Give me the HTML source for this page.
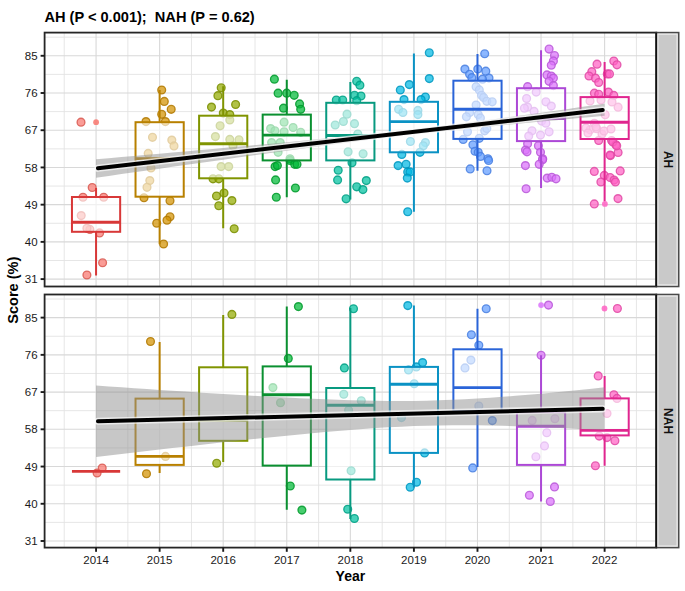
<!DOCTYPE html>
<html><head><meta charset="utf-8"><style>
html,body{margin:0;padding:0;background:#fff;width:685px;height:591px;overflow:hidden}
svg{display:block}
text{font-family:"Liberation Sans",sans-serif;}
.tk{font-size:11.5px;fill:#1a1a1a}
.ti{font-size:14.6px;font-weight:bold;fill:#000;white-space:pre}
.ax{font-size:14px;font-weight:bold;fill:#000}
.st{font-size:12px;font-weight:bold;fill:#111}
</style></head><body>
<svg width="685" height="591" viewBox="0 0 685 591">
<defs><clipPath id="c1"><rect x="44.6" y="32.6" width="611.6999999999999" height="253.9"/></clipPath><clipPath id="c2"><rect x="44.6" y="294.5" width="611.6999999999999" height="253.10000000000002"/></clipPath></defs>
<rect width="685" height="591" fill="#fff"/>
<line x1="44.6" x2="656.3" y1="260.49" y2="260.49" stroke="#E3E3E3" stroke-width="0.9"/>
<line x1="44.6" x2="656.3" y1="223.27" y2="223.27" stroke="#E3E3E3" stroke-width="0.9"/>
<line x1="44.6" x2="656.3" y1="186.05" y2="186.05" stroke="#E3E3E3" stroke-width="0.9"/>
<line x1="44.6" x2="656.3" y1="148.83" y2="148.83" stroke="#E3E3E3" stroke-width="0.9"/>
<line x1="44.6" x2="656.3" y1="111.61" y2="111.61" stroke="#E3E3E3" stroke-width="0.9"/>
<line x1="44.6" x2="656.3" y1="74.39" y2="74.39" stroke="#E3E3E3" stroke-width="0.9"/>
<line x1="44.6" x2="656.3" y1="37.17" y2="37.17" stroke="#E3E3E3" stroke-width="0.9"/>
<line x1="64.23" x2="64.23" y1="32.6" y2="286.5" stroke="#E3E3E3" stroke-width="0.9"/>
<line x1="127.89" x2="127.89" y1="32.6" y2="286.5" stroke="#E3E3E3" stroke-width="0.9"/>
<line x1="191.46" x2="191.46" y1="32.6" y2="286.5" stroke="#E3E3E3" stroke-width="0.9"/>
<line x1="255.03" x2="255.03" y1="32.6" y2="286.5" stroke="#E3E3E3" stroke-width="0.9"/>
<line x1="318.6" x2="318.6" y1="32.6" y2="286.5" stroke="#E3E3E3" stroke-width="0.9"/>
<line x1="382.17" x2="382.17" y1="32.6" y2="286.5" stroke="#E3E3E3" stroke-width="0.9"/>
<line x1="445.74" x2="445.74" y1="32.6" y2="286.5" stroke="#E3E3E3" stroke-width="0.9"/>
<line x1="509.31" x2="509.31" y1="32.6" y2="286.5" stroke="#E3E3E3" stroke-width="0.9"/>
<line x1="572.88" x2="572.88" y1="32.6" y2="286.5" stroke="#E3E3E3" stroke-width="0.9"/>
<line x1="636.45" x2="636.45" y1="32.6" y2="286.5" stroke="#E3E3E3" stroke-width="0.9"/>
<line x1="44.6" x2="656.3" y1="279.1" y2="279.1" stroke="#D8D8D8" stroke-width="1.1"/>
<line x1="44.6" x2="656.3" y1="241.88" y2="241.88" stroke="#D8D8D8" stroke-width="1.1"/>
<line x1="44.6" x2="656.3" y1="204.66" y2="204.66" stroke="#D8D8D8" stroke-width="1.1"/>
<line x1="44.6" x2="656.3" y1="167.44" y2="167.44" stroke="#D8D8D8" stroke-width="1.1"/>
<line x1="44.6" x2="656.3" y1="130.22" y2="130.22" stroke="#D8D8D8" stroke-width="1.1"/>
<line x1="44.6" x2="656.3" y1="93" y2="93" stroke="#D8D8D8" stroke-width="1.1"/>
<line x1="44.6" x2="656.3" y1="55.78" y2="55.78" stroke="#D8D8D8" stroke-width="1.1"/>
<line x1="96.06" x2="96.06" y1="32.6" y2="286.5" stroke="#D8D8D8" stroke-width="1.1"/>
<line x1="159.63" x2="159.63" y1="32.6" y2="286.5" stroke="#D8D8D8" stroke-width="1.1"/>
<line x1="223.2" x2="223.2" y1="32.6" y2="286.5" stroke="#D8D8D8" stroke-width="1.1"/>
<line x1="286.77" x2="286.77" y1="32.6" y2="286.5" stroke="#D8D8D8" stroke-width="1.1"/>
<line x1="350.34" x2="350.34" y1="32.6" y2="286.5" stroke="#D8D8D8" stroke-width="1.1"/>
<line x1="413.91" x2="413.91" y1="32.6" y2="286.5" stroke="#D8D8D8" stroke-width="1.1"/>
<line x1="477.48" x2="477.48" y1="32.6" y2="286.5" stroke="#D8D8D8" stroke-width="1.1"/>
<line x1="541.05" x2="541.05" y1="32.6" y2="286.5" stroke="#D8D8D8" stroke-width="1.1"/>
<line x1="604.62" x2="604.62" y1="32.6" y2="286.5" stroke="#D8D8D8" stroke-width="1.1"/>
<g clip-path="url(#c1)">
<circle cx="81" cy="122.2" r="3.9" fill="#F8766D" fill-opacity="0.72" stroke="#D85A52" stroke-opacity="0.85" stroke-width="1.35"/>
<circle cx="92.2" cy="187.5" r="3.9" fill="#F8766D" fill-opacity="0.72" stroke="#D85A52" stroke-opacity="0.85" stroke-width="1.35"/>
<circle cx="83" cy="197.2" r="3.9" fill="#F8766D" fill-opacity="0.72" stroke="#D85A52" stroke-opacity="0.85" stroke-width="1.35"/>
<circle cx="103.7" cy="197.2" r="3.9" fill="#F8766D" fill-opacity="0.72" stroke="#D85A52" stroke-opacity="0.85" stroke-width="1.35"/>
<circle cx="81.2" cy="215.6" r="3.9" fill="#F8766D" fill-opacity="0.72" stroke="#D85A52" stroke-opacity="0.85" stroke-width="1.35"/>
<circle cx="89.9" cy="229.4" r="3.9" fill="#F8766D" fill-opacity="0.72" stroke="#D85A52" stroke-opacity="0.85" stroke-width="1.35"/>
<circle cx="86.9" cy="228.3" r="3.9" fill="#F8766D" fill-opacity="0.72" stroke="#D85A52" stroke-opacity="0.85" stroke-width="1.35"/>
<circle cx="99.6" cy="232.9" r="3.9" fill="#F8766D" fill-opacity="0.72" stroke="#D85A52" stroke-opacity="0.85" stroke-width="1.35"/>
<circle cx="102.6" cy="262.8" r="3.9" fill="#F8766D" fill-opacity="0.72" stroke="#D85A52" stroke-opacity="0.85" stroke-width="1.35"/>
<circle cx="86.9" cy="275" r="3.9" fill="#F8766D" fill-opacity="0.72" stroke="#D85A52" stroke-opacity="0.85" stroke-width="1.35"/>
<circle cx="161.7" cy="90" r="3.9" fill="#D39200" fill-opacity="0.72" stroke="#B07800" stroke-opacity="0.85" stroke-width="1.35"/>
<circle cx="164.3" cy="101.4" r="3.9" fill="#D39200" fill-opacity="0.72" stroke="#B07800" stroke-opacity="0.85" stroke-width="1.35"/>
<circle cx="171.2" cy="109.3" r="3.9" fill="#D39200" fill-opacity="0.72" stroke="#B07800" stroke-opacity="0.85" stroke-width="1.35"/>
<circle cx="161.7" cy="114.3" r="3.9" fill="#D39200" fill-opacity="0.72" stroke="#B07800" stroke-opacity="0.85" stroke-width="1.35"/>
<circle cx="165.4" cy="121.6" r="3.9" fill="#D39200" fill-opacity="0.72" stroke="#B07800" stroke-opacity="0.85" stroke-width="1.35"/>
<circle cx="146" cy="121.6" r="3.9" fill="#D39200" fill-opacity="0.72" stroke="#B07800" stroke-opacity="0.85" stroke-width="1.35"/>
<circle cx="152.5" cy="137.3" r="3.9" fill="#D39200" fill-opacity="0.72" stroke="#B07800" stroke-opacity="0.85" stroke-width="1.35"/>
<circle cx="171.8" cy="140.1" r="3.9" fill="#D39200" fill-opacity="0.72" stroke="#B07800" stroke-opacity="0.85" stroke-width="1.35"/>
<circle cx="174" cy="145.9" r="3.9" fill="#D39200" fill-opacity="0.72" stroke="#B07800" stroke-opacity="0.85" stroke-width="1.35"/>
<circle cx="148.2" cy="153.4" r="3.9" fill="#D39200" fill-opacity="0.72" stroke="#B07800" stroke-opacity="0.85" stroke-width="1.35"/>
<circle cx="151" cy="168" r="3.9" fill="#D39200" fill-opacity="0.72" stroke="#B07800" stroke-opacity="0.85" stroke-width="1.35"/>
<circle cx="149.8" cy="180.6" r="3.9" fill="#D39200" fill-opacity="0.72" stroke="#B07800" stroke-opacity="0.85" stroke-width="1.35"/>
<circle cx="147" cy="187.3" r="3.9" fill="#D39200" fill-opacity="0.72" stroke="#B07800" stroke-opacity="0.85" stroke-width="1.35"/>
<circle cx="144" cy="197.7" r="3.9" fill="#D39200" fill-opacity="0.72" stroke="#B07800" stroke-opacity="0.85" stroke-width="1.35"/>
<circle cx="170" cy="200.7" r="3.9" fill="#D39200" fill-opacity="0.72" stroke="#B07800" stroke-opacity="0.85" stroke-width="1.35"/>
<circle cx="170" cy="216.8" r="3.9" fill="#D39200" fill-opacity="0.72" stroke="#B07800" stroke-opacity="0.85" stroke-width="1.35"/>
<circle cx="167" cy="220.2" r="3.9" fill="#D39200" fill-opacity="0.72" stroke="#B07800" stroke-opacity="0.85" stroke-width="1.35"/>
<circle cx="156.7" cy="223.2" r="3.9" fill="#D39200" fill-opacity="0.72" stroke="#B07800" stroke-opacity="0.85" stroke-width="1.35"/>
<circle cx="163.6" cy="244" r="3.9" fill="#D39200" fill-opacity="0.72" stroke="#B07800" stroke-opacity="0.85" stroke-width="1.35"/>
<circle cx="221.2" cy="87.8" r="3.9" fill="#93AA00" fill-opacity="0.72" stroke="#7A8E00" stroke-opacity="0.85" stroke-width="1.35"/>
<circle cx="217.9" cy="95.7" r="3.9" fill="#93AA00" fill-opacity="0.72" stroke="#7A8E00" stroke-opacity="0.85" stroke-width="1.35"/>
<circle cx="211.5" cy="107.1" r="3.9" fill="#93AA00" fill-opacity="0.72" stroke="#7A8E00" stroke-opacity="0.85" stroke-width="1.35"/>
<circle cx="235.6" cy="104.5" r="3.9" fill="#93AA00" fill-opacity="0.72" stroke="#7A8E00" stroke-opacity="0.85" stroke-width="1.35"/>
<circle cx="223.3" cy="113.1" r="3.9" fill="#93AA00" fill-opacity="0.72" stroke="#7A8E00" stroke-opacity="0.85" stroke-width="1.35"/>
<circle cx="229.8" cy="114.6" r="3.9" fill="#93AA00" fill-opacity="0.72" stroke="#7A8E00" stroke-opacity="0.85" stroke-width="1.35"/>
<circle cx="229.8" cy="120" r="3.9" fill="#93AA00" fill-opacity="0.72" stroke="#7A8E00" stroke-opacity="0.85" stroke-width="1.35"/>
<circle cx="220.1" cy="125.8" r="3.9" fill="#93AA00" fill-opacity="0.72" stroke="#7A8E00" stroke-opacity="0.85" stroke-width="1.35"/>
<circle cx="215.4" cy="136.6" r="3.9" fill="#93AA00" fill-opacity="0.72" stroke="#7A8E00" stroke-opacity="0.85" stroke-width="1.35"/>
<circle cx="229.8" cy="139.4" r="3.9" fill="#93AA00" fill-opacity="0.72" stroke="#7A8E00" stroke-opacity="0.85" stroke-width="1.35"/>
<circle cx="239" cy="139.8" r="3.9" fill="#93AA00" fill-opacity="0.72" stroke="#7A8E00" stroke-opacity="0.85" stroke-width="1.35"/>
<circle cx="233" cy="145.8" r="3.9" fill="#93AA00" fill-opacity="0.72" stroke="#7A8E00" stroke-opacity="0.85" stroke-width="1.35"/>
<circle cx="221.1" cy="166.6" r="3.9" fill="#93AA00" fill-opacity="0.72" stroke="#7A8E00" stroke-opacity="0.85" stroke-width="1.35"/>
<circle cx="228.7" cy="166.6" r="3.9" fill="#93AA00" fill-opacity="0.72" stroke="#7A8E00" stroke-opacity="0.85" stroke-width="1.35"/>
<circle cx="213" cy="178.8" r="3.9" fill="#93AA00" fill-opacity="0.72" stroke="#7A8E00" stroke-opacity="0.85" stroke-width="1.35"/>
<circle cx="218.8" cy="178.8" r="3.9" fill="#93AA00" fill-opacity="0.72" stroke="#7A8E00" stroke-opacity="0.85" stroke-width="1.35"/>
<circle cx="216.5" cy="196" r="3.9" fill="#93AA00" fill-opacity="0.72" stroke="#7A8E00" stroke-opacity="0.85" stroke-width="1.35"/>
<circle cx="224" cy="193" r="3.9" fill="#93AA00" fill-opacity="0.72" stroke="#7A8E00" stroke-opacity="0.85" stroke-width="1.35"/>
<circle cx="231.9" cy="200.6" r="3.9" fill="#93AA00" fill-opacity="0.72" stroke="#7A8E00" stroke-opacity="0.85" stroke-width="1.35"/>
<circle cx="218.8" cy="205.7" r="3.9" fill="#93AA00" fill-opacity="0.72" stroke="#7A8E00" stroke-opacity="0.85" stroke-width="1.35"/>
<circle cx="234.2" cy="228.7" r="3.9" fill="#93AA00" fill-opacity="0.72" stroke="#7A8E00" stroke-opacity="0.85" stroke-width="1.35"/>
<circle cx="274.4" cy="79.2" r="3.9" fill="#00BA38" fill-opacity="0.72" stroke="#009A2C" stroke-opacity="0.85" stroke-width="1.35"/>
<circle cx="278.1" cy="93.2" r="3.9" fill="#00BA38" fill-opacity="0.72" stroke="#009A2C" stroke-opacity="0.85" stroke-width="1.35"/>
<circle cx="286.7" cy="93.2" r="3.9" fill="#00BA38" fill-opacity="0.72" stroke="#009A2C" stroke-opacity="0.85" stroke-width="1.35"/>
<circle cx="294.2" cy="95.3" r="3.9" fill="#00BA38" fill-opacity="0.72" stroke="#009A2C" stroke-opacity="0.85" stroke-width="1.35"/>
<circle cx="299.6" cy="103.9" r="3.9" fill="#00BA38" fill-opacity="0.72" stroke="#009A2C" stroke-opacity="0.85" stroke-width="1.35"/>
<circle cx="300.7" cy="109.3" r="3.9" fill="#00BA38" fill-opacity="0.72" stroke="#009A2C" stroke-opacity="0.85" stroke-width="1.35"/>
<circle cx="283.5" cy="108.2" r="3.9" fill="#00BA38" fill-opacity="0.72" stroke="#009A2C" stroke-opacity="0.85" stroke-width="1.35"/>
<circle cx="284.1" cy="122.2" r="3.9" fill="#00BA38" fill-opacity="0.72" stroke="#009A2C" stroke-opacity="0.85" stroke-width="1.35"/>
<circle cx="293.1" cy="127.5" r="3.9" fill="#00BA38" fill-opacity="0.72" stroke="#009A2C" stroke-opacity="0.85" stroke-width="1.35"/>
<circle cx="270.6" cy="128.6" r="3.9" fill="#00BA38" fill-opacity="0.72" stroke="#009A2C" stroke-opacity="0.85" stroke-width="1.35"/>
<circle cx="274.9" cy="130.8" r="3.9" fill="#00BA38" fill-opacity="0.72" stroke="#009A2C" stroke-opacity="0.85" stroke-width="1.35"/>
<circle cx="284.1" cy="131.8" r="3.9" fill="#00BA38" fill-opacity="0.72" stroke="#009A2C" stroke-opacity="0.85" stroke-width="1.35"/>
<circle cx="300.7" cy="132.3" r="3.9" fill="#00BA38" fill-opacity="0.72" stroke="#009A2C" stroke-opacity="0.85" stroke-width="1.35"/>
<circle cx="271.6" cy="142.6" r="3.9" fill="#00BA38" fill-opacity="0.72" stroke="#009A2C" stroke-opacity="0.85" stroke-width="1.35"/>
<circle cx="280.2" cy="142.6" r="3.9" fill="#00BA38" fill-opacity="0.72" stroke="#009A2C" stroke-opacity="0.85" stroke-width="1.35"/>
<circle cx="278.1" cy="152.3" r="3.9" fill="#00BA38" fill-opacity="0.72" stroke="#009A2C" stroke-opacity="0.85" stroke-width="1.35"/>
<circle cx="290" cy="158.7" r="3.9" fill="#00BA38" fill-opacity="0.72" stroke="#009A2C" stroke-opacity="0.85" stroke-width="1.35"/>
<circle cx="275.1" cy="166.6" r="3.9" fill="#00BA38" fill-opacity="0.72" stroke="#009A2C" stroke-opacity="0.85" stroke-width="1.35"/>
<circle cx="277.4" cy="165.6" r="3.9" fill="#00BA38" fill-opacity="0.72" stroke="#009A2C" stroke-opacity="0.85" stroke-width="1.35"/>
<circle cx="290.1" cy="160.4" r="3.9" fill="#00BA38" fill-opacity="0.72" stroke="#009A2C" stroke-opacity="0.85" stroke-width="1.35"/>
<circle cx="294.7" cy="164.3" r="3.9" fill="#00BA38" fill-opacity="0.72" stroke="#009A2C" stroke-opacity="0.85" stroke-width="1.35"/>
<circle cx="297" cy="164.3" r="3.9" fill="#00BA38" fill-opacity="0.72" stroke="#009A2C" stroke-opacity="0.85" stroke-width="1.35"/>
<circle cx="275.6" cy="179.9" r="3.9" fill="#00BA38" fill-opacity="0.72" stroke="#009A2C" stroke-opacity="0.85" stroke-width="1.35"/>
<circle cx="295.4" cy="188" r="3.9" fill="#00BA38" fill-opacity="0.72" stroke="#009A2C" stroke-opacity="0.85" stroke-width="1.35"/>
<circle cx="276.3" cy="197.2" r="3.9" fill="#00BA38" fill-opacity="0.72" stroke="#009A2C" stroke-opacity="0.85" stroke-width="1.35"/>
<circle cx="356.7" cy="81.3" r="3.9" fill="#00C19F" fill-opacity="0.72" stroke="#00A085" stroke-opacity="0.85" stroke-width="1.35"/>
<circle cx="359.9" cy="85.2" r="3.9" fill="#00C19F" fill-opacity="0.72" stroke="#00A085" stroke-opacity="0.85" stroke-width="1.35"/>
<circle cx="354.5" cy="95.3" r="3.9" fill="#00C19F" fill-opacity="0.72" stroke="#00A085" stroke-opacity="0.85" stroke-width="1.35"/>
<circle cx="361" cy="96" r="3.9" fill="#00C19F" fill-opacity="0.72" stroke="#00A085" stroke-opacity="0.85" stroke-width="1.35"/>
<circle cx="336.3" cy="100" r="3.9" fill="#00C19F" fill-opacity="0.72" stroke="#00A085" stroke-opacity="0.85" stroke-width="1.35"/>
<circle cx="342.7" cy="100" r="3.9" fill="#00C19F" fill-opacity="0.72" stroke="#00A085" stroke-opacity="0.85" stroke-width="1.35"/>
<circle cx="356.7" cy="100.7" r="3.9" fill="#00C19F" fill-opacity="0.72" stroke="#00A085" stroke-opacity="0.85" stroke-width="1.35"/>
<circle cx="347" cy="114.2" r="3.9" fill="#00C19F" fill-opacity="0.72" stroke="#00A085" stroke-opacity="0.85" stroke-width="1.35"/>
<circle cx="343.4" cy="121.5" r="3.9" fill="#00C19F" fill-opacity="0.72" stroke="#00A085" stroke-opacity="0.85" stroke-width="1.35"/>
<circle cx="335.2" cy="125" r="3.9" fill="#00C19F" fill-opacity="0.72" stroke="#00A085" stroke-opacity="0.85" stroke-width="1.35"/>
<circle cx="354.5" cy="123.7" r="3.9" fill="#00C19F" fill-opacity="0.72" stroke="#00A085" stroke-opacity="0.85" stroke-width="1.35"/>
<circle cx="357.8" cy="134" r="3.9" fill="#00C19F" fill-opacity="0.72" stroke="#00A085" stroke-opacity="0.85" stroke-width="1.35"/>
<circle cx="348.1" cy="151.8" r="3.9" fill="#00C19F" fill-opacity="0.72" stroke="#00A085" stroke-opacity="0.85" stroke-width="1.35"/>
<circle cx="363.1" cy="153.8" r="3.9" fill="#00C19F" fill-opacity="0.72" stroke="#00A085" stroke-opacity="0.85" stroke-width="1.35"/>
<circle cx="352" cy="162.7" r="3.9" fill="#00C19F" fill-opacity="0.72" stroke="#00A085" stroke-opacity="0.85" stroke-width="1.35"/>
<circle cx="338.2" cy="170.2" r="3.9" fill="#00C19F" fill-opacity="0.72" stroke="#00A085" stroke-opacity="0.85" stroke-width="1.35"/>
<circle cx="337.6" cy="179.9" r="3.9" fill="#00C19F" fill-opacity="0.72" stroke="#00A085" stroke-opacity="0.85" stroke-width="1.35"/>
<circle cx="366.3" cy="180.6" r="3.9" fill="#00C19F" fill-opacity="0.72" stroke="#00A085" stroke-opacity="0.85" stroke-width="1.35"/>
<circle cx="356.7" cy="186.8" r="3.9" fill="#00C19F" fill-opacity="0.72" stroke="#00A085" stroke-opacity="0.85" stroke-width="1.35"/>
<circle cx="362.9" cy="189.6" r="3.9" fill="#00C19F" fill-opacity="0.72" stroke="#00A085" stroke-opacity="0.85" stroke-width="1.35"/>
<circle cx="346.1" cy="198.8" r="3.9" fill="#00C19F" fill-opacity="0.72" stroke="#00A085" stroke-opacity="0.85" stroke-width="1.35"/>
<circle cx="429.3" cy="52.8" r="3.9" fill="#00B9E3" fill-opacity="0.72" stroke="#0098C0" stroke-opacity="0.85" stroke-width="1.35"/>
<circle cx="429.3" cy="78.6" r="3.9" fill="#00B9E3" fill-opacity="0.72" stroke="#0098C0" stroke-opacity="0.85" stroke-width="1.35"/>
<circle cx="409.3" cy="84.6" r="3.9" fill="#00B9E3" fill-opacity="0.72" stroke="#0098C0" stroke-opacity="0.85" stroke-width="1.35"/>
<circle cx="400.3" cy="90" r="3.9" fill="#00B9E3" fill-opacity="0.72" stroke="#0098C0" stroke-opacity="0.85" stroke-width="1.35"/>
<circle cx="404" cy="99.6" r="3.9" fill="#00B9E3" fill-opacity="0.72" stroke="#0098C0" stroke-opacity="0.85" stroke-width="1.35"/>
<circle cx="425.4" cy="97" r="3.9" fill="#00B9E3" fill-opacity="0.72" stroke="#0098C0" stroke-opacity="0.85" stroke-width="1.35"/>
<circle cx="421.1" cy="99.6" r="3.9" fill="#00B9E3" fill-opacity="0.72" stroke="#0098C0" stroke-opacity="0.85" stroke-width="1.35"/>
<circle cx="398.6" cy="109.3" r="3.9" fill="#00B9E3" fill-opacity="0.72" stroke="#0098C0" stroke-opacity="0.85" stroke-width="1.35"/>
<circle cx="402.9" cy="112.5" r="3.9" fill="#00B9E3" fill-opacity="0.72" stroke="#0098C0" stroke-opacity="0.85" stroke-width="1.35"/>
<circle cx="417.9" cy="110.4" r="3.9" fill="#00B9E3" fill-opacity="0.72" stroke="#0098C0" stroke-opacity="0.85" stroke-width="1.35"/>
<circle cx="417.9" cy="114.6" r="3.9" fill="#00B9E3" fill-opacity="0.72" stroke="#0098C0" stroke-opacity="0.85" stroke-width="1.35"/>
<circle cx="410.4" cy="141.5" r="3.9" fill="#00B9E3" fill-opacity="0.72" stroke="#0098C0" stroke-opacity="0.85" stroke-width="1.35"/>
<circle cx="425.4" cy="142.6" r="3.9" fill="#00B9E3" fill-opacity="0.72" stroke="#0098C0" stroke-opacity="0.85" stroke-width="1.35"/>
<circle cx="423.3" cy="145.8" r="3.9" fill="#00B9E3" fill-opacity="0.72" stroke="#0098C0" stroke-opacity="0.85" stroke-width="1.35"/>
<circle cx="401.8" cy="154.4" r="3.9" fill="#00B9E3" fill-opacity="0.72" stroke="#0098C0" stroke-opacity="0.85" stroke-width="1.35"/>
<circle cx="420" cy="152.3" r="3.9" fill="#00B9E3" fill-opacity="0.72" stroke="#0098C0" stroke-opacity="0.85" stroke-width="1.35"/>
<circle cx="398.1" cy="165.6" r="3.9" fill="#00B9E3" fill-opacity="0.72" stroke="#0098C0" stroke-opacity="0.85" stroke-width="1.35"/>
<circle cx="406.1" cy="164.3" r="3.9" fill="#00B9E3" fill-opacity="0.72" stroke="#0098C0" stroke-opacity="0.85" stroke-width="1.35"/>
<circle cx="407.7" cy="171.9" r="3.9" fill="#00B9E3" fill-opacity="0.72" stroke="#0098C0" stroke-opacity="0.85" stroke-width="1.35"/>
<circle cx="410" cy="171.9" r="3.9" fill="#00B9E3" fill-opacity="0.72" stroke="#0098C0" stroke-opacity="0.85" stroke-width="1.35"/>
<circle cx="407.3" cy="178.1" r="3.9" fill="#00B9E3" fill-opacity="0.72" stroke="#0098C0" stroke-opacity="0.85" stroke-width="1.35"/>
<circle cx="407.7" cy="211.7" r="3.9" fill="#00B9E3" fill-opacity="0.72" stroke="#0098C0" stroke-opacity="0.85" stroke-width="1.35"/>
<circle cx="484.7" cy="53.8" r="3.9" fill="#619CFF" fill-opacity="0.72" stroke="#4A80E0" stroke-opacity="0.85" stroke-width="1.35"/>
<circle cx="464.9" cy="69.1" r="3.9" fill="#619CFF" fill-opacity="0.72" stroke="#4A80E0" stroke-opacity="0.85" stroke-width="1.35"/>
<circle cx="477.8" cy="69.1" r="3.9" fill="#619CFF" fill-opacity="0.72" stroke="#4A80E0" stroke-opacity="0.85" stroke-width="1.35"/>
<circle cx="485.8" cy="71.2" r="3.9" fill="#619CFF" fill-opacity="0.72" stroke="#4A80E0" stroke-opacity="0.85" stroke-width="1.35"/>
<circle cx="469.6" cy="74.3" r="3.9" fill="#619CFF" fill-opacity="0.72" stroke="#4A80E0" stroke-opacity="0.85" stroke-width="1.35"/>
<circle cx="471.8" cy="77.7" r="3.9" fill="#619CFF" fill-opacity="0.72" stroke="#4A80E0" stroke-opacity="0.85" stroke-width="1.35"/>
<circle cx="489" cy="78.1" r="3.9" fill="#619CFF" fill-opacity="0.72" stroke="#4A80E0" stroke-opacity="0.85" stroke-width="1.35"/>
<circle cx="482.5" cy="79.2" r="3.9" fill="#619CFF" fill-opacity="0.72" stroke="#4A80E0" stroke-opacity="0.85" stroke-width="1.35"/>
<circle cx="476.1" cy="86.7" r="3.9" fill="#619CFF" fill-opacity="0.72" stroke="#4A80E0" stroke-opacity="0.85" stroke-width="1.35"/>
<circle cx="479.3" cy="89.9" r="3.9" fill="#619CFF" fill-opacity="0.72" stroke="#4A80E0" stroke-opacity="0.85" stroke-width="1.35"/>
<circle cx="481.5" cy="95.3" r="3.9" fill="#619CFF" fill-opacity="0.72" stroke="#4A80E0" stroke-opacity="0.85" stroke-width="1.35"/>
<circle cx="483.6" cy="97.5" r="3.9" fill="#619CFF" fill-opacity="0.72" stroke="#4A80E0" stroke-opacity="0.85" stroke-width="1.35"/>
<circle cx="486.8" cy="101.3" r="3.9" fill="#619CFF" fill-opacity="0.72" stroke="#4A80E0" stroke-opacity="0.85" stroke-width="1.35"/>
<circle cx="492.2" cy="101.8" r="3.9" fill="#619CFF" fill-opacity="0.72" stroke="#4A80E0" stroke-opacity="0.85" stroke-width="1.35"/>
<circle cx="476.1" cy="105" r="3.9" fill="#619CFF" fill-opacity="0.72" stroke="#4A80E0" stroke-opacity="0.85" stroke-width="1.35"/>
<circle cx="469.6" cy="112.5" r="3.9" fill="#619CFF" fill-opacity="0.72" stroke="#4A80E0" stroke-opacity="0.85" stroke-width="1.35"/>
<circle cx="478.2" cy="114.6" r="3.9" fill="#619CFF" fill-opacity="0.72" stroke="#4A80E0" stroke-opacity="0.85" stroke-width="1.35"/>
<circle cx="466.4" cy="116.8" r="3.9" fill="#619CFF" fill-opacity="0.72" stroke="#4A80E0" stroke-opacity="0.85" stroke-width="1.35"/>
<circle cx="480.4" cy="117.9" r="3.9" fill="#619CFF" fill-opacity="0.72" stroke="#4A80E0" stroke-opacity="0.85" stroke-width="1.35"/>
<circle cx="467.5" cy="131.8" r="3.9" fill="#619CFF" fill-opacity="0.72" stroke="#4A80E0" stroke-opacity="0.85" stroke-width="1.35"/>
<circle cx="484.7" cy="130.8" r="3.9" fill="#619CFF" fill-opacity="0.72" stroke="#4A80E0" stroke-opacity="0.85" stroke-width="1.35"/>
<circle cx="486.8" cy="128.6" r="3.9" fill="#619CFF" fill-opacity="0.72" stroke="#4A80E0" stroke-opacity="0.85" stroke-width="1.35"/>
<circle cx="463.2" cy="139.4" r="3.9" fill="#619CFF" fill-opacity="0.72" stroke="#4A80E0" stroke-opacity="0.85" stroke-width="1.35"/>
<circle cx="479.3" cy="138.3" r="3.9" fill="#619CFF" fill-opacity="0.72" stroke="#4A80E0" stroke-opacity="0.85" stroke-width="1.35"/>
<circle cx="472.9" cy="144.7" r="3.9" fill="#619CFF" fill-opacity="0.72" stroke="#4A80E0" stroke-opacity="0.85" stroke-width="1.35"/>
<circle cx="475" cy="151.2" r="3.9" fill="#619CFF" fill-opacity="0.72" stroke="#4A80E0" stroke-opacity="0.85" stroke-width="1.35"/>
<circle cx="478.2" cy="152.3" r="3.9" fill="#619CFF" fill-opacity="0.72" stroke="#4A80E0" stroke-opacity="0.85" stroke-width="1.35"/>
<circle cx="487.9" cy="158.7" r="3.9" fill="#619CFF" fill-opacity="0.72" stroke="#4A80E0" stroke-opacity="0.85" stroke-width="1.35"/>
<circle cx="480.5" cy="156.4" r="3.9" fill="#619CFF" fill-opacity="0.72" stroke="#4A80E0" stroke-opacity="0.85" stroke-width="1.35"/>
<circle cx="488.6" cy="160.4" r="3.9" fill="#619CFF" fill-opacity="0.72" stroke="#4A80E0" stroke-opacity="0.85" stroke-width="1.35"/>
<circle cx="470.2" cy="168.9" r="3.9" fill="#619CFF" fill-opacity="0.72" stroke="#4A80E0" stroke-opacity="0.85" stroke-width="1.35"/>
<circle cx="487" cy="170.7" r="3.9" fill="#619CFF" fill-opacity="0.72" stroke="#4A80E0" stroke-opacity="0.85" stroke-width="1.35"/>
<circle cx="549.1" cy="49.1" r="3.9" fill="#DB72FB" fill-opacity="0.72" stroke="#B858D8" stroke-opacity="0.85" stroke-width="1.35"/>
<circle cx="554.5" cy="55.6" r="3.9" fill="#DB72FB" fill-opacity="0.72" stroke="#B858D8" stroke-opacity="0.85" stroke-width="1.35"/>
<circle cx="553.4" cy="60.9" r="3.9" fill="#DB72FB" fill-opacity="0.72" stroke="#B858D8" stroke-opacity="0.85" stroke-width="1.35"/>
<circle cx="551.3" cy="65.2" r="3.9" fill="#DB72FB" fill-opacity="0.72" stroke="#B858D8" stroke-opacity="0.85" stroke-width="1.35"/>
<circle cx="547" cy="74.9" r="3.9" fill="#DB72FB" fill-opacity="0.72" stroke="#B858D8" stroke-opacity="0.85" stroke-width="1.35"/>
<circle cx="551.3" cy="76" r="3.9" fill="#DB72FB" fill-opacity="0.72" stroke="#B858D8" stroke-opacity="0.85" stroke-width="1.35"/>
<circle cx="553.4" cy="78.1" r="3.9" fill="#DB72FB" fill-opacity="0.72" stroke="#B858D8" stroke-opacity="0.85" stroke-width="1.35"/>
<circle cx="549.1" cy="81.3" r="3.9" fill="#DB72FB" fill-opacity="0.72" stroke="#B858D8" stroke-opacity="0.85" stroke-width="1.35"/>
<circle cx="553.4" cy="85.6" r="3.9" fill="#DB72FB" fill-opacity="0.72" stroke="#B858D8" stroke-opacity="0.85" stroke-width="1.35"/>
<circle cx="527.6" cy="86.7" r="3.9" fill="#DB72FB" fill-opacity="0.72" stroke="#B858D8" stroke-opacity="0.85" stroke-width="1.35"/>
<circle cx="536.2" cy="92.1" r="3.9" fill="#DB72FB" fill-opacity="0.72" stroke="#B858D8" stroke-opacity="0.85" stroke-width="1.35"/>
<circle cx="526.6" cy="98.5" r="3.9" fill="#DB72FB" fill-opacity="0.72" stroke="#B858D8" stroke-opacity="0.85" stroke-width="1.35"/>
<circle cx="545.9" cy="101.8" r="3.9" fill="#DB72FB" fill-opacity="0.72" stroke="#B858D8" stroke-opacity="0.85" stroke-width="1.35"/>
<circle cx="551.3" cy="106.1" r="3.9" fill="#DB72FB" fill-opacity="0.72" stroke="#B858D8" stroke-opacity="0.85" stroke-width="1.35"/>
<circle cx="527.6" cy="107.1" r="3.9" fill="#DB72FB" fill-opacity="0.72" stroke="#B858D8" stroke-opacity="0.85" stroke-width="1.35"/>
<circle cx="524.4" cy="108.2" r="3.9" fill="#DB72FB" fill-opacity="0.72" stroke="#B858D8" stroke-opacity="0.85" stroke-width="1.35"/>
<circle cx="534.1" cy="111.4" r="3.9" fill="#DB72FB" fill-opacity="0.72" stroke="#B858D8" stroke-opacity="0.85" stroke-width="1.35"/>
<circle cx="541.6" cy="121.1" r="3.9" fill="#DB72FB" fill-opacity="0.72" stroke="#B858D8" stroke-opacity="0.85" stroke-width="1.35"/>
<circle cx="545.9" cy="123.2" r="3.9" fill="#DB72FB" fill-opacity="0.72" stroke="#B858D8" stroke-opacity="0.85" stroke-width="1.35"/>
<circle cx="532" cy="130.8" r="3.9" fill="#DB72FB" fill-opacity="0.72" stroke="#B858D8" stroke-opacity="0.85" stroke-width="1.35"/>
<circle cx="540.5" cy="135.1" r="3.9" fill="#DB72FB" fill-opacity="0.72" stroke="#B858D8" stroke-opacity="0.85" stroke-width="1.35"/>
<circle cx="549.1" cy="131.8" r="3.9" fill="#DB72FB" fill-opacity="0.72" stroke="#B858D8" stroke-opacity="0.85" stroke-width="1.35"/>
<circle cx="528.7" cy="136.1" r="3.9" fill="#DB72FB" fill-opacity="0.72" stroke="#B858D8" stroke-opacity="0.85" stroke-width="1.35"/>
<circle cx="527.6" cy="143.7" r="3.9" fill="#DB72FB" fill-opacity="0.72" stroke="#B858D8" stroke-opacity="0.85" stroke-width="1.35"/>
<circle cx="538.4" cy="145.8" r="3.9" fill="#DB72FB" fill-opacity="0.72" stroke="#B858D8" stroke-opacity="0.85" stroke-width="1.35"/>
<circle cx="525.5" cy="150.1" r="3.9" fill="#DB72FB" fill-opacity="0.72" stroke="#B858D8" stroke-opacity="0.85" stroke-width="1.35"/>
<circle cx="540.5" cy="152.3" r="3.9" fill="#DB72FB" fill-opacity="0.72" stroke="#B858D8" stroke-opacity="0.85" stroke-width="1.35"/>
<circle cx="542.7" cy="158.7" r="3.9" fill="#DB72FB" fill-opacity="0.72" stroke="#B858D8" stroke-opacity="0.85" stroke-width="1.35"/>
<circle cx="527" cy="151.8" r="3.9" fill="#DB72FB" fill-opacity="0.72" stroke="#B858D8" stroke-opacity="0.85" stroke-width="1.35"/>
<circle cx="542.6" cy="159.7" r="3.9" fill="#DB72FB" fill-opacity="0.72" stroke="#B858D8" stroke-opacity="0.85" stroke-width="1.35"/>
<circle cx="539.2" cy="164.3" r="3.9" fill="#DB72FB" fill-opacity="0.72" stroke="#B858D8" stroke-opacity="0.85" stroke-width="1.35"/>
<circle cx="525.4" cy="165.6" r="3.9" fill="#DB72FB" fill-opacity="0.72" stroke="#B858D8" stroke-opacity="0.85" stroke-width="1.35"/>
<circle cx="547.2" cy="178.1" r="3.9" fill="#DB72FB" fill-opacity="0.72" stroke="#B858D8" stroke-opacity="0.85" stroke-width="1.35"/>
<circle cx="551.8" cy="177.2" r="3.9" fill="#DB72FB" fill-opacity="0.72" stroke="#B858D8" stroke-opacity="0.85" stroke-width="1.35"/>
<circle cx="556" cy="178.8" r="3.9" fill="#DB72FB" fill-opacity="0.72" stroke="#B858D8" stroke-opacity="0.85" stroke-width="1.35"/>
<circle cx="526.1" cy="188.7" r="3.9" fill="#DB72FB" fill-opacity="0.72" stroke="#B858D8" stroke-opacity="0.85" stroke-width="1.35"/>
<circle cx="597" cy="64.2" r="3.9" fill="#FF61C3" fill-opacity="0.72" stroke="#E04AA4" stroke-opacity="0.85" stroke-width="1.35"/>
<circle cx="613.8" cy="61" r="3.9" fill="#FF61C3" fill-opacity="0.72" stroke="#E04AA4" stroke-opacity="0.85" stroke-width="1.35"/>
<circle cx="617" cy="64.8" r="3.9" fill="#FF61C3" fill-opacity="0.72" stroke="#E04AA4" stroke-opacity="0.85" stroke-width="1.35"/>
<circle cx="591.8" cy="71.7" r="3.9" fill="#FF61C3" fill-opacity="0.72" stroke="#E04AA4" stroke-opacity="0.85" stroke-width="1.35"/>
<circle cx="589" cy="76" r="3.9" fill="#FF61C3" fill-opacity="0.72" stroke="#E04AA4" stroke-opacity="0.85" stroke-width="1.35"/>
<circle cx="595.5" cy="78.2" r="3.9" fill="#FF61C3" fill-opacity="0.72" stroke="#E04AA4" stroke-opacity="0.85" stroke-width="1.35"/>
<circle cx="598.7" cy="82.5" r="3.9" fill="#FF61C3" fill-opacity="0.72" stroke="#E04AA4" stroke-opacity="0.85" stroke-width="1.35"/>
<circle cx="607.3" cy="73.9" r="3.9" fill="#FF61C3" fill-opacity="0.72" stroke="#E04AA4" stroke-opacity="0.85" stroke-width="1.35"/>
<circle cx="609.5" cy="73.9" r="3.9" fill="#FF61C3" fill-opacity="0.72" stroke="#E04AA4" stroke-opacity="0.85" stroke-width="1.35"/>
<circle cx="594.4" cy="93.2" r="3.9" fill="#FF61C3" fill-opacity="0.72" stroke="#E04AA4" stroke-opacity="0.85" stroke-width="1.35"/>
<circle cx="598.7" cy="94.3" r="3.9" fill="#FF61C3" fill-opacity="0.72" stroke="#E04AA4" stroke-opacity="0.85" stroke-width="1.35"/>
<circle cx="608.4" cy="92.1" r="3.9" fill="#FF61C3" fill-opacity="0.72" stroke="#E04AA4" stroke-opacity="0.85" stroke-width="1.35"/>
<circle cx="613.8" cy="95.4" r="3.9" fill="#FF61C3" fill-opacity="0.72" stroke="#E04AA4" stroke-opacity="0.85" stroke-width="1.35"/>
<circle cx="618.1" cy="107.2" r="3.9" fill="#FF61C3" fill-opacity="0.72" stroke="#E04AA4" stroke-opacity="0.85" stroke-width="1.35"/>
<circle cx="605.2" cy="114.7" r="3.9" fill="#FF61C3" fill-opacity="0.72" stroke="#E04AA4" stroke-opacity="0.85" stroke-width="1.35"/>
<circle cx="594.4" cy="123.3" r="3.9" fill="#FF61C3" fill-opacity="0.72" stroke="#E04AA4" stroke-opacity="0.85" stroke-width="1.35"/>
<circle cx="590.1" cy="129.8" r="3.9" fill="#FF61C3" fill-opacity="0.72" stroke="#E04AA4" stroke-opacity="0.85" stroke-width="1.35"/>
<circle cx="596.6" cy="128.7" r="3.9" fill="#FF61C3" fill-opacity="0.72" stroke="#E04AA4" stroke-opacity="0.85" stroke-width="1.35"/>
<circle cx="602" cy="134.1" r="3.9" fill="#FF61C3" fill-opacity="0.72" stroke="#E04AA4" stroke-opacity="0.85" stroke-width="1.35"/>
<circle cx="598.7" cy="140.5" r="3.9" fill="#FF61C3" fill-opacity="0.72" stroke="#E04AA4" stroke-opacity="0.85" stroke-width="1.35"/>
<circle cx="611.6" cy="140.5" r="3.9" fill="#FF61C3" fill-opacity="0.72" stroke="#E04AA4" stroke-opacity="0.85" stroke-width="1.35"/>
<circle cx="615.9" cy="144.8" r="3.9" fill="#FF61C3" fill-opacity="0.72" stroke="#E04AA4" stroke-opacity="0.85" stroke-width="1.35"/>
<circle cx="618.1" cy="152.4" r="3.9" fill="#FF61C3" fill-opacity="0.72" stroke="#E04AA4" stroke-opacity="0.85" stroke-width="1.35"/>
<circle cx="610.5" cy="155.6" r="3.9" fill="#FF61C3" fill-opacity="0.72" stroke="#E04AA4" stroke-opacity="0.85" stroke-width="1.35"/>
<circle cx="612.8" cy="141.9" r="3.9" fill="#FF61C3" fill-opacity="0.72" stroke="#E04AA4" stroke-opacity="0.85" stroke-width="1.35"/>
<circle cx="616.7" cy="145.8" r="3.9" fill="#FF61C3" fill-opacity="0.72" stroke="#E04AA4" stroke-opacity="0.85" stroke-width="1.35"/>
<circle cx="610.1" cy="155.1" r="3.9" fill="#FF61C3" fill-opacity="0.72" stroke="#E04AA4" stroke-opacity="0.85" stroke-width="1.35"/>
<circle cx="594.3" cy="171.4" r="3.9" fill="#FF61C3" fill-opacity="0.72" stroke="#E04AA4" stroke-opacity="0.85" stroke-width="1.35"/>
<circle cx="620.2" cy="170.9" r="3.9" fill="#FF61C3" fill-opacity="0.72" stroke="#E04AA4" stroke-opacity="0.85" stroke-width="1.35"/>
<circle cx="604.3" cy="175.4" r="3.9" fill="#FF61C3" fill-opacity="0.72" stroke="#E04AA4" stroke-opacity="0.85" stroke-width="1.35"/>
<circle cx="610.1" cy="177.5" r="3.9" fill="#FF61C3" fill-opacity="0.72" stroke="#E04AA4" stroke-opacity="0.85" stroke-width="1.35"/>
<circle cx="614.1" cy="180.1" r="3.9" fill="#FF61C3" fill-opacity="0.72" stroke="#E04AA4" stroke-opacity="0.85" stroke-width="1.35"/>
<circle cx="600.9" cy="182" r="3.9" fill="#FF61C3" fill-opacity="0.72" stroke="#E04AA4" stroke-opacity="0.85" stroke-width="1.35"/>
<circle cx="615.4" cy="182" r="3.9" fill="#FF61C3" fill-opacity="0.72" stroke="#E04AA4" stroke-opacity="0.85" stroke-width="1.35"/>
<circle cx="594.3" cy="203.9" r="3.9" fill="#FF61C3" fill-opacity="0.72" stroke="#E04AA4" stroke-opacity="0.85" stroke-width="1.35"/>
<circle cx="618" cy="198.6" r="3.9" fill="#FF61C3" fill-opacity="0.72" stroke="#E04AA4" stroke-opacity="0.85" stroke-width="1.35"/>
<circle cx="590" cy="101" r="3.9" fill="#FF61C3" fill-opacity="0.72" stroke="#E04AA4" stroke-opacity="0.85" stroke-width="1.35"/>
<circle cx="601" cy="100" r="3.9" fill="#FF61C3" fill-opacity="0.72" stroke="#E04AA4" stroke-opacity="0.85" stroke-width="1.35"/>
<circle cx="612" cy="102" r="3.9" fill="#FF61C3" fill-opacity="0.72" stroke="#E04AA4" stroke-opacity="0.85" stroke-width="1.35"/>
<circle cx="596" cy="127" r="3.9" fill="#FF61C3" fill-opacity="0.72" stroke="#E04AA4" stroke-opacity="0.85" stroke-width="1.35"/>
<circle cx="586" cy="128" r="3.9" fill="#FF61C3" fill-opacity="0.72" stroke="#E04AA4" stroke-opacity="0.85" stroke-width="1.35"/>
<circle cx="604" cy="131" r="3.9" fill="#FF61C3" fill-opacity="0.72" stroke="#E04AA4" stroke-opacity="0.85" stroke-width="1.35"/>
<circle cx="588" cy="133" r="3.9" fill="#FF61C3" fill-opacity="0.72" stroke="#E04AA4" stroke-opacity="0.85" stroke-width="1.35"/>
<circle cx="611" cy="129" r="3.9" fill="#FF61C3" fill-opacity="0.72" stroke="#E04AA4" stroke-opacity="0.85" stroke-width="1.35"/>
<line x1="96.06" x2="96.06" y1="188" y2="197" stroke="#D83838" stroke-width="2"/>
<line x1="96.06" x2="96.06" y1="231.8" y2="275.5" stroke="#D83838" stroke-width="2"/>
<rect x="71.96" y="197" width="48.2" height="34.8" fill="#fff" fill-opacity="0.62" stroke="#D83838" stroke-width="2"/>
<line x1="71.96" x2="120.16" y1="222.2" y2="222.2" stroke="#D83838" stroke-width="2.9"/>
<circle cx="96.1" cy="122.2" r="2.9" fill="#F8766D" fill-opacity="0.85"/>
<line x1="159.63" x2="159.63" y1="90" y2="122.2" stroke="#B88000" stroke-width="2"/>
<line x1="159.63" x2="159.63" y1="196.7" y2="244.3" stroke="#B88000" stroke-width="2"/>
<rect x="135.53" y="122.2" width="48.2" height="74.5" fill="#fff" fill-opacity="0.62" stroke="#B88000" stroke-width="2"/>
<line x1="135.53" x2="183.73" y1="158.6" y2="158.6" stroke="#B88000" stroke-width="2.9"/>
<line x1="223.2" x2="223.2" y1="86.3" y2="115.7" stroke="#809400" stroke-width="2"/>
<line x1="223.2" x2="223.2" y1="178.3" y2="228.2" stroke="#809400" stroke-width="2"/>
<rect x="199.1" y="115.7" width="48.2" height="62.6" fill="#fff" fill-opacity="0.62" stroke="#809400" stroke-width="2"/>
<line x1="199.1" x2="247.3" y1="143.7" y2="143.7" stroke="#809400" stroke-width="2.9"/>
<line x1="286.77" x2="286.77" y1="79.8" y2="114.6" stroke="#0A9030" stroke-width="2"/>
<line x1="286.77" x2="286.77" y1="160.4" y2="197.2" stroke="#0A9030" stroke-width="2"/>
<rect x="262.67" y="114.6" width="48.2" height="45.8" fill="#fff" fill-opacity="0.62" stroke="#0A9030" stroke-width="2"/>
<line x1="262.67" x2="310.87" y1="135.1" y2="135.1" stroke="#0A9030" stroke-width="2.9"/>
<line x1="350.34" x2="350.34" y1="82" y2="102.8" stroke="#089A80" stroke-width="2"/>
<line x1="350.34" x2="350.34" y1="160.4" y2="199.5" stroke="#089A80" stroke-width="2"/>
<rect x="326.24" y="102.8" width="48.2" height="57.6" fill="#fff" fill-opacity="0.62" stroke="#089A80" stroke-width="2"/>
<line x1="326.24" x2="374.44" y1="135.5" y2="135.5" stroke="#089A80" stroke-width="2.9"/>
<line x1="413.91" x2="413.91" y1="53.4" y2="101.8" stroke="#0A92C4" stroke-width="2"/>
<line x1="413.91" x2="413.91" y1="152.3" y2="211.7" stroke="#0A92C4" stroke-width="2"/>
<rect x="389.81" y="101.8" width="48.2" height="50.5" fill="#fff" fill-opacity="0.62" stroke="#0A92C4" stroke-width="2"/>
<line x1="389.81" x2="438.01" y1="121.6" y2="121.6" stroke="#0A92C4" stroke-width="2.9"/>
<line x1="477.48" x2="477.48" y1="54.1" y2="80.7" stroke="#2A64D8" stroke-width="2"/>
<line x1="477.48" x2="477.48" y1="138.9" y2="170.7" stroke="#2A64D8" stroke-width="2"/>
<rect x="453.38" y="80.7" width="48.2" height="58.2" fill="#fff" fill-opacity="0.62" stroke="#2A64D8" stroke-width="2"/>
<line x1="453.38" x2="501.58" y1="109.3" y2="109.3" stroke="#2A64D8" stroke-width="2.9"/>
<line x1="541.05" x2="541.05" y1="50.2" y2="88.2" stroke="#AC48D6" stroke-width="2"/>
<line x1="541.05" x2="541.05" y1="141.1" y2="188" stroke="#AC48D6" stroke-width="2"/>
<rect x="516.95" y="88.2" width="48.2" height="52.9" fill="#fff" fill-opacity="0.62" stroke="#AC48D6" stroke-width="2"/>
<line x1="516.95" x2="565.15" y1="118.5" y2="118.5" stroke="#AC48D6" stroke-width="2.9"/>
<line x1="604.62" x2="604.62" y1="62" y2="97.1" stroke="#E0268F" stroke-width="2"/>
<line x1="604.62" x2="604.62" y1="139" y2="201.2" stroke="#E0268F" stroke-width="2"/>
<rect x="580.52" y="97.1" width="48.2" height="41.9" fill="#fff" fill-opacity="0.62" stroke="#E0268F" stroke-width="2"/>
<line x1="580.52" x2="628.72" y1="122.2" y2="122.2" stroke="#E0268F" stroke-width="2.9"/>
<circle cx="604.9" cy="203.9" r="2.9" fill="#FF61C3" fill-opacity="0.85"/>
<path d="M96.06,159.3 L108.77,158.18 L121.49,157.05 L134.2,155.93 L146.91,154.8 L159.63,153.67 L172.34,152.54 L185.05,151.41 L197.77,150.27 L210.48,149.14 L223.2,147.99 L235.91,146.85 L248.62,145.7 L261.34,144.54 L274.05,143.38 L286.76,142.21 L299.48,141.02 L312.19,139.83 L324.9,138.62 L337.62,137.39 L350.33,136.14 L363.04,134.85 L375.76,133.54 L388.47,132.17 L401.18,130.77 L413.9,129.31 L426.61,127.8 L439.32,126.24 L452.04,124.64 L464.75,123 L477.47,121.33 L490.18,119.64 L502.89,117.92 L515.61,116.18 L528.32,114.44 L541.03,112.68 L553.75,110.91 L566.46,109.13 L579.17,107.35 L591.89,105.56 L604.6,103.77 L604.6,115.83 L591.89,116.97 L579.17,118.12 L566.46,119.27 L553.75,120.43 L541.03,121.6 L528.32,122.77 L515.61,123.96 L502.89,125.16 L490.18,126.38 L477.47,127.62 L464.75,128.88 L452.04,130.18 L439.32,131.51 L426.61,132.89 L413.9,134.31 L401.18,135.79 L388.47,137.32 L375.76,138.89 L363.04,140.51 L350.33,142.16 L337.62,143.84 L324.9,145.55 L312.19,147.27 L299.48,149.02 L286.76,150.77 L274.05,152.53 L261.34,154.3 L248.62,156.08 L235.91,157.87 L223.2,159.66 L210.48,161.45 L197.77,163.25 L185.05,165.04 L172.34,166.85 L159.63,168.65 L146.91,170.46 L134.2,172.27 L121.49,174.08 L108.77,175.89 L96.06,177.7 Z" fill="#8f8f8f" fill-opacity="0.5"/>
<line x1="97.96" y1="168.28" x2="602.7" y2="110.02" stroke="#fff" stroke-width="7.2" stroke-opacity="0.65" stroke-linecap="round"/>
<line x1="97.96" y1="168.28" x2="602.7" y2="110.02" stroke="#000" stroke-width="4" stroke-linecap="round"/>
</g>
<rect x="44.6" y="32.6" width="611.7" height="253.9" fill="none" stroke="#262626" stroke-width="1.8"/>
<line x1="44.6" x2="656.3" y1="522.38" y2="522.38" stroke="#E3E3E3" stroke-width="0.9"/>
<line x1="44.6" x2="656.3" y1="485.15" y2="485.15" stroke="#E3E3E3" stroke-width="0.9"/>
<line x1="44.6" x2="656.3" y1="447.93" y2="447.93" stroke="#E3E3E3" stroke-width="0.9"/>
<line x1="44.6" x2="656.3" y1="410.7" y2="410.7" stroke="#E3E3E3" stroke-width="0.9"/>
<line x1="44.6" x2="656.3" y1="373.47" y2="373.47" stroke="#E3E3E3" stroke-width="0.9"/>
<line x1="44.6" x2="656.3" y1="336.24" y2="336.24" stroke="#E3E3E3" stroke-width="0.9"/>
<line x1="44.6" x2="656.3" y1="299" y2="299" stroke="#E3E3E3" stroke-width="0.9"/>
<line x1="64.23" x2="64.23" y1="294.5" y2="547.6" stroke="#E3E3E3" stroke-width="0.9"/>
<line x1="127.89" x2="127.89" y1="294.5" y2="547.6" stroke="#E3E3E3" stroke-width="0.9"/>
<line x1="191.46" x2="191.46" y1="294.5" y2="547.6" stroke="#E3E3E3" stroke-width="0.9"/>
<line x1="255.03" x2="255.03" y1="294.5" y2="547.6" stroke="#E3E3E3" stroke-width="0.9"/>
<line x1="318.6" x2="318.6" y1="294.5" y2="547.6" stroke="#E3E3E3" stroke-width="0.9"/>
<line x1="382.17" x2="382.17" y1="294.5" y2="547.6" stroke="#E3E3E3" stroke-width="0.9"/>
<line x1="445.74" x2="445.74" y1="294.5" y2="547.6" stroke="#E3E3E3" stroke-width="0.9"/>
<line x1="509.31" x2="509.31" y1="294.5" y2="547.6" stroke="#E3E3E3" stroke-width="0.9"/>
<line x1="572.88" x2="572.88" y1="294.5" y2="547.6" stroke="#E3E3E3" stroke-width="0.9"/>
<line x1="636.45" x2="636.45" y1="294.5" y2="547.6" stroke="#E3E3E3" stroke-width="0.9"/>
<line x1="44.6" x2="656.3" y1="541" y2="541" stroke="#D8D8D8" stroke-width="1.1"/>
<line x1="44.6" x2="656.3" y1="503.77" y2="503.77" stroke="#D8D8D8" stroke-width="1.1"/>
<line x1="44.6" x2="656.3" y1="466.54" y2="466.54" stroke="#D8D8D8" stroke-width="1.1"/>
<line x1="44.6" x2="656.3" y1="429.31" y2="429.31" stroke="#D8D8D8" stroke-width="1.1"/>
<line x1="44.6" x2="656.3" y1="392.08" y2="392.08" stroke="#D8D8D8" stroke-width="1.1"/>
<line x1="44.6" x2="656.3" y1="354.85" y2="354.85" stroke="#D8D8D8" stroke-width="1.1"/>
<line x1="44.6" x2="656.3" y1="317.62" y2="317.62" stroke="#D8D8D8" stroke-width="1.1"/>
<line x1="96.06" x2="96.06" y1="294.5" y2="547.6" stroke="#D8D8D8" stroke-width="1.1"/>
<line x1="159.63" x2="159.63" y1="294.5" y2="547.6" stroke="#D8D8D8" stroke-width="1.1"/>
<line x1="223.2" x2="223.2" y1="294.5" y2="547.6" stroke="#D8D8D8" stroke-width="1.1"/>
<line x1="286.77" x2="286.77" y1="294.5" y2="547.6" stroke="#D8D8D8" stroke-width="1.1"/>
<line x1="350.34" x2="350.34" y1="294.5" y2="547.6" stroke="#D8D8D8" stroke-width="1.1"/>
<line x1="413.91" x2="413.91" y1="294.5" y2="547.6" stroke="#D8D8D8" stroke-width="1.1"/>
<line x1="477.48" x2="477.48" y1="294.5" y2="547.6" stroke="#D8D8D8" stroke-width="1.1"/>
<line x1="541.05" x2="541.05" y1="294.5" y2="547.6" stroke="#D8D8D8" stroke-width="1.1"/>
<line x1="604.62" x2="604.62" y1="294.5" y2="547.6" stroke="#D8D8D8" stroke-width="1.1"/>
<g clip-path="url(#c2)">
<circle cx="97.1" cy="473" r="3.9" fill="#F8766D" fill-opacity="0.72" stroke="#D85A52" stroke-opacity="0.85" stroke-width="1.35"/>
<circle cx="102.2" cy="468" r="3.9" fill="#F8766D" fill-opacity="0.72" stroke="#D85A52" stroke-opacity="0.85" stroke-width="1.35"/>
<circle cx="150.5" cy="341.5" r="3.9" fill="#D39200" fill-opacity="0.72" stroke="#B07800" stroke-opacity="0.85" stroke-width="1.35"/>
<circle cx="146.5" cy="473.7" r="3.9" fill="#D39200" fill-opacity="0.72" stroke="#B07800" stroke-opacity="0.85" stroke-width="1.35"/>
<circle cx="165.5" cy="456.4" r="3.9" fill="#D39200" fill-opacity="0.72" stroke="#B07800" stroke-opacity="0.85" stroke-width="1.35"/>
<circle cx="231.9" cy="314.4" r="3.9" fill="#93AA00" fill-opacity="0.72" stroke="#7A8E00" stroke-opacity="0.85" stroke-width="1.35"/>
<circle cx="216.7" cy="463.3" r="3.9" fill="#93AA00" fill-opacity="0.72" stroke="#7A8E00" stroke-opacity="0.85" stroke-width="1.35"/>
<circle cx="298.4" cy="306.6" r="3.9" fill="#00BA38" fill-opacity="0.72" stroke="#009A2C" stroke-opacity="0.85" stroke-width="1.35"/>
<circle cx="288.3" cy="358.4" r="3.9" fill="#00BA38" fill-opacity="0.72" stroke="#009A2C" stroke-opacity="0.85" stroke-width="1.35"/>
<circle cx="272.9" cy="387.6" r="3.9" fill="#00BA38" fill-opacity="0.72" stroke="#009A2C" stroke-opacity="0.85" stroke-width="1.35"/>
<circle cx="280.5" cy="402.8" r="3.9" fill="#00BA38" fill-opacity="0.72" stroke="#009A2C" stroke-opacity="0.85" stroke-width="1.35"/>
<circle cx="290.3" cy="486" r="3.9" fill="#00BA38" fill-opacity="0.72" stroke="#009A2C" stroke-opacity="0.85" stroke-width="1.35"/>
<circle cx="301.9" cy="510.1" r="3.9" fill="#00BA38" fill-opacity="0.72" stroke="#009A2C" stroke-opacity="0.85" stroke-width="1.35"/>
<circle cx="353.5" cy="308.7" r="3.9" fill="#00C19F" fill-opacity="0.72" stroke="#00A085" stroke-opacity="0.85" stroke-width="1.35"/>
<circle cx="344.4" cy="367.9" r="3.9" fill="#00C19F" fill-opacity="0.72" stroke="#00A085" stroke-opacity="0.85" stroke-width="1.35"/>
<circle cx="343.8" cy="394.3" r="3.9" fill="#00C19F" fill-opacity="0.72" stroke="#00A085" stroke-opacity="0.85" stroke-width="1.35"/>
<circle cx="361.3" cy="400.7" r="3.9" fill="#00C19F" fill-opacity="0.72" stroke="#00A085" stroke-opacity="0.85" stroke-width="1.35"/>
<circle cx="348.6" cy="410.2" r="3.9" fill="#00C19F" fill-opacity="0.72" stroke="#00A085" stroke-opacity="0.85" stroke-width="1.35"/>
<circle cx="351.1" cy="470.7" r="3.9" fill="#00C19F" fill-opacity="0.72" stroke="#00A085" stroke-opacity="0.85" stroke-width="1.35"/>
<circle cx="347.7" cy="509.2" r="3.9" fill="#00C19F" fill-opacity="0.72" stroke="#00A085" stroke-opacity="0.85" stroke-width="1.35"/>
<circle cx="354.4" cy="518.5" r="3.9" fill="#00C19F" fill-opacity="0.72" stroke="#00A085" stroke-opacity="0.85" stroke-width="1.35"/>
<circle cx="407.8" cy="305.6" r="3.9" fill="#00B9E3" fill-opacity="0.72" stroke="#0098C0" stroke-opacity="0.85" stroke-width="1.35"/>
<circle cx="422.6" cy="362.6" r="3.9" fill="#00B9E3" fill-opacity="0.72" stroke="#0098C0" stroke-opacity="0.85" stroke-width="1.35"/>
<circle cx="416.3" cy="366.9" r="3.9" fill="#00B9E3" fill-opacity="0.72" stroke="#0098C0" stroke-opacity="0.85" stroke-width="1.35"/>
<circle cx="408.5" cy="370" r="3.9" fill="#00B9E3" fill-opacity="0.72" stroke="#0098C0" stroke-opacity="0.85" stroke-width="1.35"/>
<circle cx="414.2" cy="383.8" r="3.9" fill="#00B9E3" fill-opacity="0.72" stroke="#0098C0" stroke-opacity="0.85" stroke-width="1.35"/>
<circle cx="401.5" cy="417.6" r="3.9" fill="#00B9E3" fill-opacity="0.72" stroke="#0098C0" stroke-opacity="0.85" stroke-width="1.35"/>
<circle cx="424.6" cy="452.9" r="3.9" fill="#00B9E3" fill-opacity="0.72" stroke="#0098C0" stroke-opacity="0.85" stroke-width="1.35"/>
<circle cx="410.2" cy="487.2" r="3.9" fill="#00B9E3" fill-opacity="0.72" stroke="#0098C0" stroke-opacity="0.85" stroke-width="1.35"/>
<circle cx="416.5" cy="482.3" r="3.9" fill="#00B9E3" fill-opacity="0.72" stroke="#0098C0" stroke-opacity="0.85" stroke-width="1.35"/>
<circle cx="486.2" cy="308.7" r="3.9" fill="#619CFF" fill-opacity="0.72" stroke="#4A80E0" stroke-opacity="0.85" stroke-width="1.35"/>
<circle cx="471.4" cy="334.7" r="3.9" fill="#619CFF" fill-opacity="0.72" stroke="#4A80E0" stroke-opacity="0.85" stroke-width="1.35"/>
<circle cx="478.8" cy="345.3" r="3.9" fill="#619CFF" fill-opacity="0.72" stroke="#4A80E0" stroke-opacity="0.85" stroke-width="1.35"/>
<circle cx="470.9" cy="360.1" r="3.9" fill="#619CFF" fill-opacity="0.72" stroke="#4A80E0" stroke-opacity="0.85" stroke-width="1.35"/>
<circle cx="465" cy="367.9" r="3.9" fill="#619CFF" fill-opacity="0.72" stroke="#4A80E0" stroke-opacity="0.85" stroke-width="1.35"/>
<circle cx="478.8" cy="406" r="3.9" fill="#619CFF" fill-opacity="0.72" stroke="#4A80E0" stroke-opacity="0.85" stroke-width="1.35"/>
<circle cx="472.7" cy="467.9" r="3.9" fill="#619CFF" fill-opacity="0.72" stroke="#4A80E0" stroke-opacity="0.85" stroke-width="1.35"/>
<circle cx="492.3" cy="420.6" r="3.9" fill="#619CFF" fill-opacity="0.72" stroke="#4A80E0" stroke-opacity="0.85" stroke-width="1.35"/>
<circle cx="548.5" cy="305.1" r="3.9" fill="#DB72FB" fill-opacity="0.72" stroke="#B858D8" stroke-opacity="0.85" stroke-width="1.35"/>
<circle cx="541.1" cy="355.2" r="3.9" fill="#DB72FB" fill-opacity="0.72" stroke="#B858D8" stroke-opacity="0.85" stroke-width="1.35"/>
<circle cx="532.2" cy="420.4" r="3.9" fill="#DB72FB" fill-opacity="0.72" stroke="#B858D8" stroke-opacity="0.85" stroke-width="1.35"/>
<circle cx="554.9" cy="418.8" r="3.9" fill="#DB72FB" fill-opacity="0.72" stroke="#B858D8" stroke-opacity="0.85" stroke-width="1.35"/>
<circle cx="546.8" cy="432.7" r="3.9" fill="#DB72FB" fill-opacity="0.72" stroke="#B858D8" stroke-opacity="0.85" stroke-width="1.35"/>
<circle cx="544.5" cy="445.9" r="3.9" fill="#DB72FB" fill-opacity="0.72" stroke="#B858D8" stroke-opacity="0.85" stroke-width="1.35"/>
<circle cx="535.9" cy="456.8" r="3.9" fill="#DB72FB" fill-opacity="0.72" stroke="#B858D8" stroke-opacity="0.85" stroke-width="1.35"/>
<circle cx="554.5" cy="486.9" r="3.9" fill="#DB72FB" fill-opacity="0.72" stroke="#B858D8" stroke-opacity="0.85" stroke-width="1.35"/>
<circle cx="529.4" cy="495.3" r="3.9" fill="#DB72FB" fill-opacity="0.72" stroke="#B858D8" stroke-opacity="0.85" stroke-width="1.35"/>
<circle cx="550.3" cy="501.5" r="3.9" fill="#DB72FB" fill-opacity="0.72" stroke="#B858D8" stroke-opacity="0.85" stroke-width="1.35"/>
<circle cx="617.4" cy="308.5" r="3.9" fill="#FF61C3" fill-opacity="0.72" stroke="#E04AA4" stroke-opacity="0.85" stroke-width="1.35"/>
<circle cx="598.2" cy="375.9" r="3.9" fill="#FF61C3" fill-opacity="0.72" stroke="#E04AA4" stroke-opacity="0.85" stroke-width="1.35"/>
<circle cx="613.9" cy="394.7" r="3.9" fill="#FF61C3" fill-opacity="0.72" stroke="#E04AA4" stroke-opacity="0.85" stroke-width="1.35"/>
<circle cx="617" cy="398.4" r="3.9" fill="#FF61C3" fill-opacity="0.72" stroke="#E04AA4" stroke-opacity="0.85" stroke-width="1.35"/>
<circle cx="607" cy="413.5" r="3.9" fill="#FF61C3" fill-opacity="0.72" stroke="#E04AA4" stroke-opacity="0.85" stroke-width="1.35"/>
<circle cx="599.2" cy="436.1" r="3.9" fill="#FF61C3" fill-opacity="0.72" stroke="#E04AA4" stroke-opacity="0.85" stroke-width="1.35"/>
<circle cx="607" cy="437.6" r="3.9" fill="#FF61C3" fill-opacity="0.72" stroke="#E04AA4" stroke-opacity="0.85" stroke-width="1.35"/>
<circle cx="614.9" cy="440.8" r="3.9" fill="#FF61C3" fill-opacity="0.72" stroke="#E04AA4" stroke-opacity="0.85" stroke-width="1.35"/>
<circle cx="595.4" cy="465.8" r="3.9" fill="#FF61C3" fill-opacity="0.72" stroke="#E04AA4" stroke-opacity="0.85" stroke-width="1.35"/>
<line x1="96.06" x2="96.06" y1="471.4" y2="471.4" stroke="#D83838" stroke-width="2"/>
<line x1="96.06" x2="96.06" y1="471.4" y2="471.4" stroke="#D83838" stroke-width="2"/>
<rect x="71.96" y="471.4" width="48.2" height="0" fill="#fff" fill-opacity="0.62" stroke="#D83838" stroke-width="2"/>
<line x1="71.96" x2="120.16" y1="471.4" y2="471.4" stroke="#D83838" stroke-width="2.9"/>
<line x1="159.63" x2="159.63" y1="341.9" y2="398.6" stroke="#B88000" stroke-width="2"/>
<line x1="159.63" x2="159.63" y1="464.9" y2="473" stroke="#B88000" stroke-width="2"/>
<rect x="135.53" y="398.6" width="48.2" height="66.3" fill="#fff" fill-opacity="0.62" stroke="#B88000" stroke-width="2"/>
<line x1="135.53" x2="183.73" y1="456.4" y2="456.4" stroke="#B88000" stroke-width="2.9"/>
<line x1="223.2" x2="223.2" y1="315.1" y2="367.3" stroke="#809400" stroke-width="2"/>
<line x1="223.2" x2="223.2" y1="440.8" y2="462.1" stroke="#809400" stroke-width="2"/>
<rect x="199.1" y="367.3" width="48.2" height="73.5" fill="#fff" fill-opacity="0.62" stroke="#809400" stroke-width="2"/>
<line x1="199.1" x2="247.3" y1="420.4" y2="420.4" stroke="#809400" stroke-width="2.9"/>
<line x1="286.77" x2="286.77" y1="306.6" y2="366.4" stroke="#0A9030" stroke-width="2"/>
<line x1="286.77" x2="286.77" y1="465.6" y2="509.7" stroke="#0A9030" stroke-width="2"/>
<rect x="262.67" y="366.4" width="48.2" height="99.2" fill="#fff" fill-opacity="0.62" stroke="#0A9030" stroke-width="2"/>
<line x1="262.67" x2="310.87" y1="394.8" y2="394.8" stroke="#0A9030" stroke-width="2.9"/>
<line x1="350.34" x2="350.34" y1="308.1" y2="388" stroke="#089A80" stroke-width="2"/>
<line x1="350.34" x2="350.34" y1="479.5" y2="518.9" stroke="#089A80" stroke-width="2"/>
<rect x="326.24" y="388" width="48.2" height="91.5" fill="#fff" fill-opacity="0.62" stroke="#089A80" stroke-width="2"/>
<line x1="326.24" x2="374.44" y1="405.3" y2="405.3" stroke="#089A80" stroke-width="2.9"/>
<line x1="413.91" x2="413.91" y1="305.6" y2="366.9" stroke="#0A92C4" stroke-width="2"/>
<line x1="413.91" x2="413.91" y1="452.9" y2="487.6" stroke="#0A92C4" stroke-width="2"/>
<rect x="389.81" y="366.9" width="48.2" height="86" fill="#fff" fill-opacity="0.62" stroke="#0A92C4" stroke-width="2"/>
<line x1="389.81" x2="438.01" y1="384.2" y2="384.2" stroke="#0A92C4" stroke-width="2.9"/>
<line x1="477.48" x2="477.48" y1="308.7" y2="349.3" stroke="#2A64D8" stroke-width="2"/>
<line x1="477.48" x2="477.48" y1="411" y2="467" stroke="#2A64D8" stroke-width="2"/>
<rect x="453.38" y="349.3" width="48.2" height="61.7" fill="#fff" fill-opacity="0.62" stroke="#2A64D8" stroke-width="2"/>
<line x1="453.38" x2="501.58" y1="387.6" y2="387.6" stroke="#2A64D8" stroke-width="2.9"/>
<line x1="541.05" x2="541.05" y1="355.2" y2="412.3" stroke="#AC48D6" stroke-width="2"/>
<line x1="541.05" x2="541.05" y1="464.9" y2="501.5" stroke="#AC48D6" stroke-width="2"/>
<rect x="516.95" y="412.3" width="48.2" height="52.6" fill="#fff" fill-opacity="0.62" stroke="#AC48D6" stroke-width="2"/>
<line x1="516.95" x2="565.15" y1="426.2" y2="426.2" stroke="#AC48D6" stroke-width="2.9"/>
<circle cx="541.1" cy="305.1" r="2.9" fill="#DB72FB" fill-opacity="0.85"/>
<line x1="604.62" x2="604.62" y1="375.9" y2="398.4" stroke="#E0268F" stroke-width="2"/>
<line x1="604.62" x2="604.62" y1="435.4" y2="465.8" stroke="#E0268F" stroke-width="2"/>
<rect x="580.52" y="398.4" width="48.2" height="37" fill="#fff" fill-opacity="0.62" stroke="#E0268F" stroke-width="2"/>
<line x1="580.52" x2="628.72" y1="430.4" y2="430.4" stroke="#E0268F" stroke-width="2.9"/>
<circle cx="604.5" cy="308.5" r="2.9" fill="#FF61C3" fill-opacity="0.85"/>
<path d="M96.06,385.61 L108.77,386.49 L121.49,387.36 L134.2,388.22 L146.91,389.08 L159.63,389.93 L172.34,390.76 L185.05,391.59 L197.77,392.41 L210.48,393.21 L223.2,393.99 L235.91,394.76 L248.62,395.51 L261.34,396.23 L274.05,396.93 L286.76,397.59 L299.48,398.22 L312.19,398.8 L324.9,399.34 L337.62,399.81 L350.33,400.22 L363.04,400.55 L375.76,400.8 L388.47,400.94 L401.18,400.97 L413.9,400.88 L426.61,400.67 L439.32,400.33 L452.04,399.86 L464.75,399.26 L477.47,398.55 L490.18,397.74 L502.89,396.83 L515.61,395.83 L528.32,394.77 L541.03,393.64 L553.75,392.45 L566.46,391.22 L579.17,389.95 L591.89,388.65 L604.6,387.31 L604.6,430.29 L591.89,429.58 L579.17,428.9 L566.46,428.25 L553.75,427.65 L541.03,427.09 L528.32,426.58 L515.61,426.14 L502.89,425.77 L490.18,425.49 L477.47,425.3 L464.75,425.21 L452.04,425.24 L439.32,425.4 L426.61,425.68 L413.9,426.09 L401.18,426.63 L388.47,427.29 L375.76,428.05 L363.04,428.92 L350.33,429.88 L337.62,430.91 L324.9,432.01 L312.19,433.17 L299.48,434.38 L286.76,435.63 L274.05,436.92 L261.34,438.24 L248.62,439.59 L235.91,440.96 L223.2,442.36 L210.48,443.77 L197.77,445.19 L185.05,446.63 L172.34,448.09 L159.63,449.55 L146.91,451.02 L134.2,452.5 L121.49,453.99 L108.77,455.49 L96.06,456.99 Z" fill="#8f8f8f" fill-opacity="0.5"/>
<line x1="97.96" y1="421.25" x2="602.7" y2="408.85" stroke="#fff" stroke-width="7.2" stroke-opacity="0.65" stroke-linecap="round"/>
<line x1="97.96" y1="421.25" x2="602.7" y2="408.85" stroke="#000" stroke-width="4" stroke-linecap="round"/>
</g>
<rect x="44.6" y="294.5" width="611.7" height="253.1" fill="none" stroke="#262626" stroke-width="1.8"/>
<rect x="656.3" y="32.6" width="22.4" height="253.9" fill="#C9C9C9" stroke="#4a4a4a" stroke-width="1.6"/>
<rect x="657.9" y="34.2" width="19.2" height="250.7" fill="none" stroke="#E8E8E8" stroke-width="1.3"/>
<text x="0" y="0" transform="translate(663.8,159.55) rotate(90)" text-anchor="middle" class="st">AH</text>
<rect x="656.3" y="294.5" width="22.4" height="253.1" fill="#C9C9C9" stroke="#4a4a4a" stroke-width="1.6"/>
<rect x="657.9" y="296.1" width="19.2" height="249.9" fill="none" stroke="#E8E8E8" stroke-width="1.3"/>
<text x="0" y="0" transform="translate(663.8,421.05) rotate(90)" text-anchor="middle" class="st">NAH</text>
<line x1="656.3" x2="656.3" y1="32.6" y2="286.5" stroke="#111" stroke-width="1.6"/>
<line x1="656.3" x2="656.3" y1="294.5" y2="547.6" stroke="#111" stroke-width="1.6"/>
<line x1="40.6" x2="44.6" y1="279.1" y2="279.1" stroke="#1a1a1a" stroke-width="1.9"/>
<text x="37.6" y="283.2" text-anchor="end" class="tk">31</text>
<line x1="40.6" x2="44.6" y1="241.88" y2="241.88" stroke="#1a1a1a" stroke-width="1.9"/>
<text x="37.6" y="245.98" text-anchor="end" class="tk">40</text>
<line x1="40.6" x2="44.6" y1="204.66" y2="204.66" stroke="#1a1a1a" stroke-width="1.9"/>
<text x="37.6" y="208.76" text-anchor="end" class="tk">49</text>
<line x1="40.6" x2="44.6" y1="167.44" y2="167.44" stroke="#1a1a1a" stroke-width="1.9"/>
<text x="37.6" y="171.54" text-anchor="end" class="tk">58</text>
<line x1="40.6" x2="44.6" y1="130.22" y2="130.22" stroke="#1a1a1a" stroke-width="1.9"/>
<text x="37.6" y="134.32" text-anchor="end" class="tk">67</text>
<line x1="40.6" x2="44.6" y1="93" y2="93" stroke="#1a1a1a" stroke-width="1.9"/>
<text x="37.6" y="97.1" text-anchor="end" class="tk">76</text>
<line x1="40.6" x2="44.6" y1="55.78" y2="55.78" stroke="#1a1a1a" stroke-width="1.9"/>
<text x="37.6" y="59.88" text-anchor="end" class="tk">85</text>
<line x1="40.6" x2="44.6" y1="541" y2="541" stroke="#1a1a1a" stroke-width="1.9"/>
<text x="37.6" y="545.1" text-anchor="end" class="tk">31</text>
<line x1="40.6" x2="44.6" y1="503.77" y2="503.77" stroke="#1a1a1a" stroke-width="1.9"/>
<text x="37.6" y="507.87" text-anchor="end" class="tk">40</text>
<line x1="40.6" x2="44.6" y1="466.54" y2="466.54" stroke="#1a1a1a" stroke-width="1.9"/>
<text x="37.6" y="470.64" text-anchor="end" class="tk">49</text>
<line x1="40.6" x2="44.6" y1="429.31" y2="429.31" stroke="#1a1a1a" stroke-width="1.9"/>
<text x="37.6" y="433.41" text-anchor="end" class="tk">58</text>
<line x1="40.6" x2="44.6" y1="392.08" y2="392.08" stroke="#1a1a1a" stroke-width="1.9"/>
<text x="37.6" y="396.18" text-anchor="end" class="tk">67</text>
<line x1="40.6" x2="44.6" y1="354.85" y2="354.85" stroke="#1a1a1a" stroke-width="1.9"/>
<text x="37.6" y="358.95" text-anchor="end" class="tk">76</text>
<line x1="40.6" x2="44.6" y1="317.62" y2="317.62" stroke="#1a1a1a" stroke-width="1.9"/>
<text x="37.6" y="321.72" text-anchor="end" class="tk">85</text>
<line x1="96.06" x2="96.06" y1="547.6" y2="551.8000000000001" stroke="#1a1a1a" stroke-width="1.9"/>
<text x="96.06" y="563.6" text-anchor="middle" class="tk">2014</text>
<line x1="159.63" x2="159.63" y1="547.6" y2="551.8000000000001" stroke="#1a1a1a" stroke-width="1.9"/>
<text x="159.63" y="563.6" text-anchor="middle" class="tk">2015</text>
<line x1="223.2" x2="223.2" y1="547.6" y2="551.8000000000001" stroke="#1a1a1a" stroke-width="1.9"/>
<text x="223.2" y="563.6" text-anchor="middle" class="tk">2016</text>
<line x1="286.77" x2="286.77" y1="547.6" y2="551.8000000000001" stroke="#1a1a1a" stroke-width="1.9"/>
<text x="286.77" y="563.6" text-anchor="middle" class="tk">2017</text>
<line x1="350.34" x2="350.34" y1="547.6" y2="551.8000000000001" stroke="#1a1a1a" stroke-width="1.9"/>
<text x="350.34" y="563.6" text-anchor="middle" class="tk">2018</text>
<line x1="413.91" x2="413.91" y1="547.6" y2="551.8000000000001" stroke="#1a1a1a" stroke-width="1.9"/>
<text x="413.91" y="563.6" text-anchor="middle" class="tk">2019</text>
<line x1="477.48" x2="477.48" y1="547.6" y2="551.8000000000001" stroke="#1a1a1a" stroke-width="1.9"/>
<text x="477.48" y="563.6" text-anchor="middle" class="tk">2020</text>
<line x1="541.05" x2="541.05" y1="547.6" y2="551.8000000000001" stroke="#1a1a1a" stroke-width="1.9"/>
<text x="541.05" y="563.6" text-anchor="middle" class="tk">2021</text>
<line x1="604.62" x2="604.62" y1="547.6" y2="551.8000000000001" stroke="#1a1a1a" stroke-width="1.9"/>
<text x="604.62" y="563.6" text-anchor="middle" class="tk">2022</text>
<text x="44.4" y="22.1" class="ti">AH (P &lt; 0.001);  NAH (P = 0.62)</text>
<text x="350.4" y="580.5" text-anchor="middle" class="ax">Year</text>
<text x="0" y="0" transform="translate(17.9,290.2) rotate(-90)" text-anchor="middle" class="ax" style="font-size:14.6px">Score (%)</text>
</svg>
</body></html>
